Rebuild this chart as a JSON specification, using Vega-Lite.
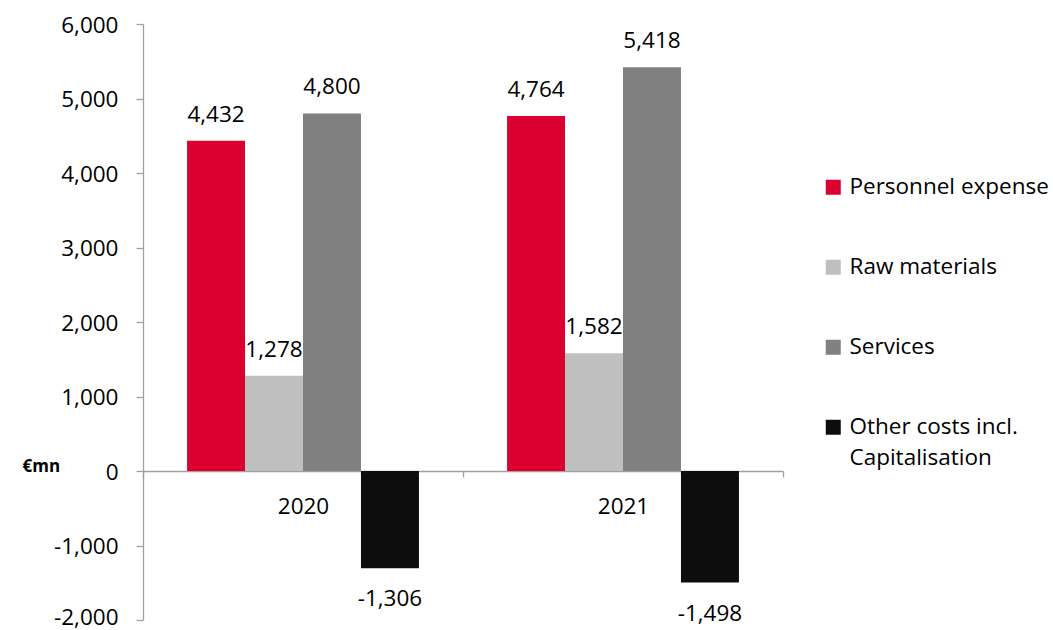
{
  "$schema": "https://vega.github.io/schema/vega-lite/v6.json",
  "width": 640,
  "height": 596,
  "autosize": {"type": "none"},
  "padding": {"left": 143, "top": 24, "right": 270, "bottom": 10},
  "background": "white",
  "config": {
    "view": {"stroke": null},
    "font": "Open Sans",
    "axis": {"labelFont": "Open Sans", "titleFont": "Open Sans"},
    "style": {"guide-label": {"lineHeight": 31}}
  },
  "data": {
    "values": [
      {"year": "2020", "category": "Personnel expense", "value": 4432},
      {"year": "2020", "category": "Raw materials", "value": 1278},
      {"year": "2020", "category": "Services", "value": 4800},
      {"year": "2020", "category": "Other costs incl. Capitalisation", "value": -1306},
      {"year": "2021", "category": "Personnel expense", "value": 4764},
      {"year": "2021", "category": "Raw materials", "value": 1582},
      {"year": "2021", "category": "Services", "value": 5418},
      {"year": "2021", "category": "Other costs incl. Capitalisation", "value": -1498}
    ]
  },
  "encoding": {
    "x": {
      "field": "year",
      "type": "nominal",
      "scale": {"paddingInner": 0, "paddingOuter": 0},
      "axis": {
        "title": null,
        "labelAngle": 0,
        "labelFontSize": 22.5,
        "labelColor": "#000000",
        "labelBaseline": "alphabetic",
        "labelPadding": 36,
        "offset": -149,
        "tickBand": "extent",
        "tickSize": 6,
        "domainColor": "#A0A0A0",
        "tickColor": "#A0A0A0",
        "domainWidth": 1.3,
        "tickWidth": 1.3
      }
    },
    "xOffset": {
      "field": "category",
      "type": "nominal",
      "sort": ["Personnel expense", "Raw materials", "Services", "Other costs incl. Capitalisation"],
      "scale": {"paddingInner": 0, "paddingOuter": 0.76}
    },
    "y": {
      "field": "value",
      "type": "quantitative",
      "scale": {"domain": [-2000, 6000], "nice": false, "zero": false},
      "axis": {
        "values": [-2000, -1000, 0, 1000, 2000, 3000, 4000, 5000, 6000],
        "labelExpr": "replace(format(datum.value, ',.0f'), '\u2212', '-')",
        "grid": false,
        "labelFontSize": 22.5,
        "labelColor": "#000000",
        "labelBaseline": "alphabetic",
        "labelOffset": {"condition": {"test": "datum.value == -2000", "value": 4}, "value": 8},
        "labelPadding": 18,
        "tickSize": 7,
        "domainColor": "#A0A0A0",
        "tickColor": "#A0A0A0",
        "domainWidth": 1.3,
        "tickWidth": 1.3,
        "title": "€mn",
        "titleAngle": 0,
        "titleFontSize": 17,
        "titleFontWeight": "bold",
        "titleColor": "#000000",
        "titleAlign": "left",
        "titleBaseline": "middle",
        "titleX": -121,
        "titleY": 442
      }
    }
  },
  "layer": [
    {
      "mark": {"type": "bar"},
      "encoding": {
        "color": {
          "field": "category",
          "type": "nominal",
          "sort": ["Personnel expense", "Raw materials", "Services", "Other costs incl. Capitalisation"],
          "scale": {
            "domain": ["Personnel expense", "Raw materials", "Services", "Other costs incl. Capitalisation"],
            "range": ["#DC0030", "#BFBFBF", "#808080", "#0D0D0D"]
          },
          "legend": {
            "title": null,
            "orient": "none",
            "legendX": 679,
            "legendY": 152,
            "symbolType": "square",
            "symbolSize": 225,
            "symbolStrokeWidth": 0,
            "labelFontSize": 22.5,
            "labelFont": "Open Sans",
            "labelColor": "#000000",
            "labelOffset": 5,
            "labelLimit": 300,
            "rowPadding": 57,
            "labelExpr": "datum.label == 'Other costs incl. Capitalisation' ? ['Other costs incl.', 'Capitalisation'] : datum.label"
          }
        }
      }
    },
    {
      "transform": [{"filter": "datum.value > 0"}],
      "mark": {"type": "text", "fontSize": 22.5, "baseline": "alphabetic", "dy": -19, "color": "#000000"},
      "encoding": {"text": {"field": "value", "type": "quantitative", "format": ","}}
    },
    {
      "transform": [{"filter": "datum.value < 0"}],
      "mark": {"type": "text", "fontSize": 22.5, "baseline": "alphabetic", "dy": 38, "color": "#000000", "text": {"expr": "replace(format(datum.value, ','), '\u2212', '-')"}}
    }
  ]
}
